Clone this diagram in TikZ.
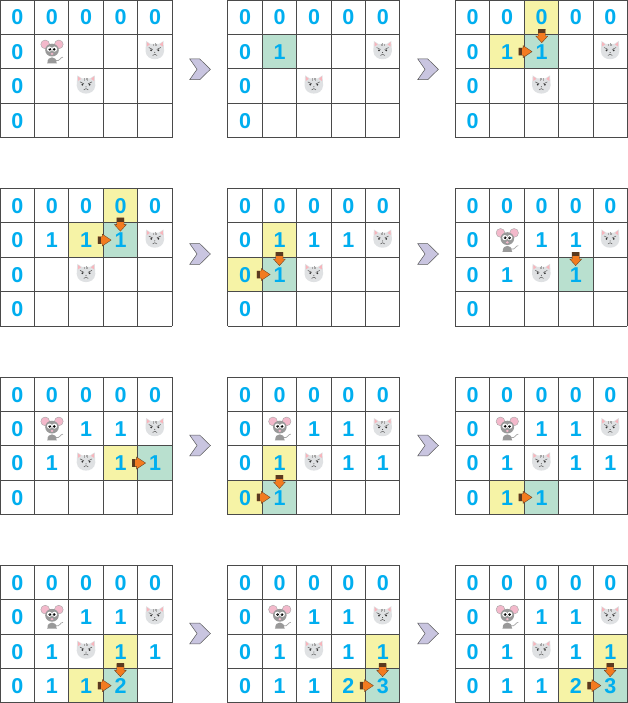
\documentclass[tikz,border=0pt]{standalone}
\usepackage{fontspec}
\setmainfont{Liberation Sans}
\definecolor{numc}{HTML}{00AEEF}
\definecolor{yel}{HTML}{F6F3A6}
\definecolor{grn}{HTML}{B9E0CF}
\definecolor{gridc}{HTML}{4A4A4A}
\definecolor{chev}{HTML}{C9C5E0}
\definecolor{arr}{HTML}{F37B20}
\definecolor{arrd}{HTML}{5A3A20}
\definecolor{earc}{HTML}{F3B9CB}
\definecolor{catc}{HTML}{DFE1E3}
\definecolor{catear}{HTML}{F7B5BC}
\tikzset{x=1pt,y=-1pt,
 numlabel/.style={font=\bfseries\fontsize{21.5}{21.5}\selectfont,text=numc,draw=numc,line width=0pt,draw=none,inner sep=0pt},
 gridline/.style={gridc,line width=.8pt},
 chevshape/.style={fill=chev,draw=gray!70!black,line width=.5pt}}
\newcommand{\gridlines}{%
 \foreach \gi in {0,...,5}{\draw[gridline] (\gi*34.4,0) -- (\gi*34.4,137.6);}
 \foreach \gj in {0,...,4}{\draw[gridline] (0,\gj*34.4) -- (172,\gj*34.4);}}
\newcommand{\cellfill}[3]{\fill[#3] (#1*34.4,#2*34.4) rectangle ++(34.4,34.4);}
\newcommand{\num}[3]{\node[numlabel] at (#1*34.4+17.4,#2*34.4+17.6) {#3};}
\newcommand{\mouse}[2]{\begin{scope}[shift={(#1*34.4+17.6,#2*34.4+17.2)}]
 \draw[gray!70,line width=.7pt] (4,9) .. controls (8,10) and (8,5.5) .. (11,5.5);
 \fill[gray!80] (-4.5,11) .. controls (-5,4) and (5,4) .. (4.5,11) -- (5,11.8) -- (-5,11.8) -- cycle;
 \fill[earc,draw=gray!70,line width=.4pt] (-6.8,-7.2) circle (4.4) (6.8,-7.2) circle (4.4);
 \fill[gray!80] (0,-1.5) ellipse (6.8 and 6.4);
 \fill[white] (-2.5,-2.5) circle (2.6) (2.5,-2.5) circle (2.6);
 \fill[black] (-2.2,-2.3) circle (1.5) (2.2,-2.3) circle (1.5);
 \fill[white] (-2.6,-2.9) circle (.45) (1.8,-2.9) circle (.45);
 \fill[earc] (0,2.3) ellipse (1.5 and 1.2);
\end{scope}}
\newcommand{\catface}[2]{\begin{scope}[shift={(#1*34.4+17.2,#2*34.4+15.6)}]
 \fill[catc] (-8.7,-9) -- (-4,-6) -- (4,-6) -- (8.7,-9) -- (9.3,1) .. controls (9,7) and (4,9.2) .. (0,9.2) .. controls (-4,9.2) and (-9,7) .. (-9.3,1) -- cycle;
 \fill[catear] (-8,-8) -- (-5,-5.5) -- (-8,-3.5) -- cycle (8,-8) -- (5,-5.5) -- (8,-3.5) -- cycle;
 \draw[gray!70,line width=.6pt] (-1.5,-6) -- (-1.5,-3.5) (0,-6.5) -- (0,-4) (1.5,-6) -- (1.5,-3.5);
 \draw[black!65,line width=.5pt] (-6,-2.5) -- (-2,-.5) (6,-2.5) -- (2,-.5) (-2.2,5.5) .. controls (-1,3.8) and (1,3.8) .. (2.2,5.5);
 \fill[black!80] (-3.6,.3) circle (1) (3.6,.3) circle (1) (0,2.4) circle (.5);
\end{scope}}
\newcommand{\rarr}[2]{\begin{scope}[shift={(#1,#2)}]
 \fill[arr,draw=arrd,line width=.3pt] (-5.3,-3.6) -- (-1,-3.6) -- (-1,-6) -- (8,0) -- (-1,6) -- (-1,3.6) -- (-5.3,3.6) -- cycle;
 \fill[arrd] (-5.3,-3.6) rectangle (-2.2,3.6);
\end{scope}}
\newcommand{\darr}[2]{\begin{scope}[shift={(#1,#2)}]
 \fill[arr,draw=arrd,line width=.3pt] (-3.6,-5) -- (3.6,-5) -- (3.6,1.7) -- (6,1.7) -- (0,8.3) -- (-6,1.7) -- (-3.6,1.7) -- cycle;
 \fill[arrd] (-3.6,-5) rectangle (3.6,-1.2);
\end{scope}}
\newcommand{\chevron}[2]{\draw[chevshape] (#1,#2) ++(-10.3,-10.4) -- ++(10,0) -- ++(10.7,10.4) -- ++(-10.7,10.4) -- ++(-10,0) -- ++(7.3,-10.4) -- cycle;}
\newcommand{\zerorow}{\foreach \c in {0,...,4}{\num{\c}{0}{0}}\foreach \r in {1,2,3}{\num{0}{\r}{0}}}
\begin{document}
\begin{tikzpicture}
\useasboundingbox (0,0) rectangle (628,703);
\fill[white] (0,0) rectangle (628,703);
% ROW 1
\begin{scope}[shift={(0,0)}]
 \zerorow \mouse{1}{1} \catface{4}{1} \catface{2}{2} \gridlines
\end{scope}
\begin{scope}[shift={(227.8,0)}]
 \cellfill{1}{1}{grn} \zerorow \num{1}{1}{1} \catface{4}{1} \catface{2}{2} \gridlines
\end{scope}
\begin{scope}[shift={(455.3,0)}]
 \cellfill{2}{0}{yel} \cellfill{1}{1}{yel} \cellfill{2}{1}{grn} \zerorow \num{1}{1}{1} \num{2}{1}{1} \catface{4}{1} \catface{2}{2} \gridlines
 \darr{86.5}{34.4} \rarr{68.8}{51.6}
\end{scope}
% ROW 2
\begin{scope}[shift={(0,188.5)}]
 \cellfill{3}{0}{yel} \cellfill{2}{1}{yel} \cellfill{3}{1}{grn} \zerorow \num{1}{1}{1} \num{2}{1}{1} \num{3}{1}{1} \catface{4}{1} \catface{2}{2} \gridlines
 \darr{120.4}{34.4} \rarr{103.2}{51.6}
\end{scope}
\begin{scope}[shift={(227.8,188.5)}]
 \cellfill{1}{1}{yel} \cellfill{0}{2}{yel} \cellfill{1}{2}{grn} \zerorow \num{1}{1}{1} \num{2}{1}{1} \num{3}{1}{1} \num{1}{2}{1} \catface{4}{1} \catface{2}{2} \gridlines
 \darr{51.6}{68.8} \rarr{34.4}{86}
\end{scope}
\begin{scope}[shift={(455.3,188.5)}]
 \cellfill{3}{2}{grn} \zerorow \mouse{1}{1} \num{2}{1}{1} \num{3}{1}{1} \num{1}{2}{1} \num{3}{2}{1} \catface{4}{1} \catface{2}{2} \gridlines
 \darr{120.4}{68.8}
\end{scope}
% ROW 3
\begin{scope}[shift={(0,377)}]
 \cellfill{3}{2}{yel} \cellfill{4}{2}{grn} \zerorow \mouse{1}{1} \num{2}{1}{1} \num{3}{1}{1} \num{1}{2}{1} \num{3}{2}{1} \num{4}{2}{1} \catface{4}{1} \catface{2}{2} \gridlines
 \rarr{137.6}{86}
\end{scope}
\begin{scope}[shift={(227.8,377)}]
 \cellfill{1}{2}{yel} \cellfill{0}{3}{yel} \cellfill{1}{3}{grn} \zerorow \mouse{1}{1} \num{2}{1}{1} \num{3}{1}{1} \num{1}{2}{1} \num{3}{2}{1} \num{4}{2}{1} \num{1}{3}{1} \catface{4}{1} \catface{2}{2} \gridlines
 \darr{51.6}{103.2} \rarr{34.4}{120.4}
\end{scope}
\begin{scope}[shift={(455.3,377)}]
 \cellfill{1}{3}{yel} \cellfill{2}{3}{grn} \zerorow \mouse{1}{1} \num{2}{1}{1} \num{3}{1}{1} \num{1}{2}{1} \num{3}{2}{1} \num{4}{2}{1} \num{1}{3}{1} \num{2}{3}{1} \catface{4}{1} \catface{2}{2} \gridlines
 \rarr{68.8}{120.4}
\end{scope}
% ROW 4
\begin{scope}[shift={(0,565.2)}]
 \cellfill{3}{2}{yel} \cellfill{2}{3}{yel} \cellfill{3}{3}{grn} \zerorow \mouse{1}{1} \num{2}{1}{1} \num{3}{1}{1} \num{1}{2}{1} \num{3}{2}{1} \num{4}{2}{1} \num{1}{3}{1} \num{2}{3}{1} \num{3}{3}{2} \catface{4}{1} \catface{2}{2} \gridlines
 \darr{120.4}{103.2} \rarr{103.2}{120.4}
\end{scope}
\begin{scope}[shift={(227.8,565.2)}]
 \cellfill{4}{2}{yel} \cellfill{3}{3}{yel} \cellfill{4}{3}{grn} \zerorow \mouse{1}{1} \num{2}{1}{1} \num{3}{1}{1} \num{1}{2}{1} \num{3}{2}{1} \num{4}{2}{1} \num{1}{3}{1} \num{2}{3}{1} \num{3}{3}{2} \num{4}{3}{3} \catface{4}{1} \catface{2}{2} \gridlines
 \darr{154.8}{103.2} \rarr{137.6}{120.4}
\end{scope}
\begin{scope}[shift={(455.3,565.2)}]
 \cellfill{4}{2}{yel} \cellfill{3}{3}{yel} \cellfill{4}{3}{grn} \zerorow \mouse{1}{1} \num{2}{1}{1} \num{3}{1}{1} \num{1}{2}{1} \num{3}{2}{1} \num{4}{2}{1} \num{1}{3}{1} \num{2}{3}{1} \num{3}{3}{2} \num{4}{3}{3} \catface{4}{1} \catface{2}{2} \gridlines
 \darr{154.8}{103.2} \rarr{137.6}{120.4}
\end{scope}
% chevrons
\foreach \xx in {200,428}{
 \chevron{\xx}{69.3}
 \chevron{\xx}{254}
 \chevron{\xx}{445.5}
 \chevron{\xx}{633.5}
}
\end{tikzpicture}
\end{document}
